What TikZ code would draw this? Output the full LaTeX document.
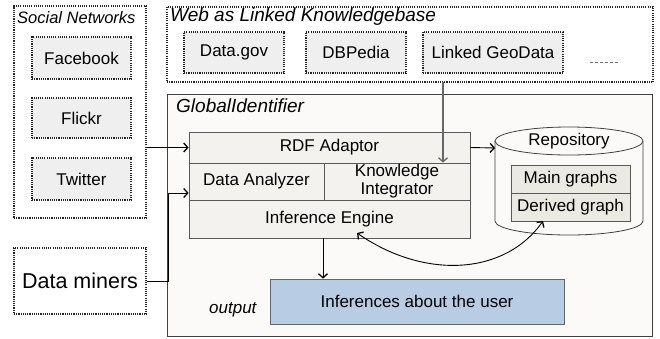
\documentclass[tikz,border=0pt]{standalone}
\usepackage{fontspec}
\setmainfont{Liberation Sans}
\usetikzlibrary{arrows.meta}
\definecolor{gibg}{HTML}{FBFAF8}
\definecolor{stackbg}{HTML}{F3F2EE}
\definecolor{repobg}{HTML}{EBEAE2}
\definecolor{srcbg}{HTML}{EFEFEF}
\definecolor{outbg}{HTML}{B8CCE4}
\newcommand{\fs}[1]{\fontsize{#1}{#1}\selectfont}
\tikzset{
  dotbox/.style={draw=black!85, line width=1.1pt, dash pattern=on 1.1pt off 1.1pt, inner sep=0pt},
  srcbox/.style={dotbox, fill=srcbg, font=\fs{17}},
  stackbox/.style={draw=black!65, line width=0.8pt, fill=stackbg, inner sep=0pt, font=\fs{17}},
  repobox/.style={draw=black!65, line width=0.8pt, fill=repobg, inner sep=0pt, font=\fs{17}, minimum width=119pt, minimum height=28pt},
  arr/.style={line width=0.9pt, -{Straight Barb[length=4pt,width=9pt,line width=1.3pt]}},
  dblarr/.style={line width=0.9pt, {Straight Barb[length=4pt,width=9pt,line width=1.3pt]}-{Straight Barb[length=4pt,width=9pt,line width=1.3pt]}},
  lbl/.style={inner sep=0pt, anchor=west}
}
\begin{document}
\begin{tikzpicture}[x=1pt,y=-1pt]
\useasboundingbox[fill=white] (0,0) rectangle (660,338);
% Social networks
\node[dotbox, minimum width=132pt, minimum height=212pt] (sn) at (80,112) {};
\node[lbl, font=\fs{16.5}\itshape] (snl) at (17,18) {Social Networks};
\node[srcbox, minimum width=99pt, minimum height=42pt] (fb) at (81.5,58) {Facebook};
\node[srcbox, minimum width=99pt, minimum height=40pt] (fl) at (81.5,118) {Flickr};
\node[srcbox, minimum width=99pt, minimum height=42pt] (tw) at (81.5,179) {Twitter};
% Web
\node[dotbox, minimum width=486pt, minimum height=75pt] (web) at (410,44.5) {};
\node[lbl, font=\fs{19}\itshape] (webl) at (170,17) {Web as Linked Knowledgebase};
\node[srcbox, minimum width=100pt, minimum height=41pt] (dg) at (234,52.5) {Data.gov};
\node[srcbox, minimum width=100pt, minimum height=41pt] (dbp) at (356,52.5) {DBPedia};
\node[srcbox, minimum width=140pt, minimum height=41pt] (lgd) at (493,52.5) {Linked GeoData};
\coordinate (d1) at (590,62);
\coordinate (d2) at (620,62);
\draw[black!55, line width=0.7pt, dash pattern=on 3pt off 2pt] (d1) -- (d2);
% Data miners
\node[dotbox, minimum width=132pt, minimum height=66pt, font=\fs{21.5}] (dm) at (80,281) {Data miners};
% GlobalIdentifier
\node[draw=black!75, line width=1pt, fill=gibg, minimum width=485pt, minimum height=242pt, inner sep=0pt] (gi) at (409.5,215) {};
\node[lbl, font=\fs{19}\itshape] (gil) at (176,106) {GlobalIdentifier};
\node[stackbox, minimum width=281pt, minimum height=31pt] (rdf) at (329.5,147.5) {RDF Adaptor};
\node[stackbox, minimum width=135pt, minimum height=37pt] (da) at (256.5,181.5) {Data Analyzer};
\node[stackbox, minimum width=146pt, minimum height=37pt, align=center, font=\fontsize{17}{18}\selectfont] (ki) at (397,181.5) {Knowledge\\Integrator};
\node[stackbox, minimum width=281pt, minimum height=38pt] (ie) at (329.5,219) {Inference Engine};
% Repository cylinder
\node[inner sep=0pt, minimum width=148pt, minimum height=108pt] (repo) at (569,181) {};
\draw[black!75, line width=0.8pt, fill=gibg]
  (495,141) -- (495,221) arc[start angle=180, end angle=360, x radius=74pt, y radius=14pt] -- (643,141);
\draw[black!75, line width=0.8pt, fill=gibg] (569,141) ellipse[x radius=74pt, y radius=14pt];
\node[font=\fs{17}, inner sep=0pt] (repol) at (569,141) {Repository};
\node[repobox] (mg) at (570.5,179) {Main graphs};
\node[repobox] (dgr) at (570.5,207) {Derived graph};
% Output
\node[draw=black!60, line width=0.8pt, fill=outbg, minimum width=294pt, minimum height=45pt, inner sep=0pt, font=\fs{17}] (out) at (417,301.5) {Inferences about the user};
\node[lbl, font=\fs{17}\itshape] (outl) at (209,310) {output};
% Connectors
\draw[arr] (sn.east |- rdf.west) -- (rdf.west);
\coordinate (dmc) at (168,193);
\draw[arr] (dm.east) -| (dmc) -- (dmc -| da.west);
\coordinate (lgdc) at (443,82);
\draw[arr, draw=black!60, line width=1.3pt] (lgdc) -- (lgdc |- ki.north);
\draw[arr] (rdf.east) -- (495,148);
\coordinate (iec) at (323,238);
\draw[arr] (iec) -- (iec |- out.north);
\coordinate (ies) at (357,233);
\coordinate (dgs) at (543,221);
\draw[dblarr] (ies) .. controls (425,280) and (505,275) .. (dgs);
\end{tikzpicture}
\end{document}
